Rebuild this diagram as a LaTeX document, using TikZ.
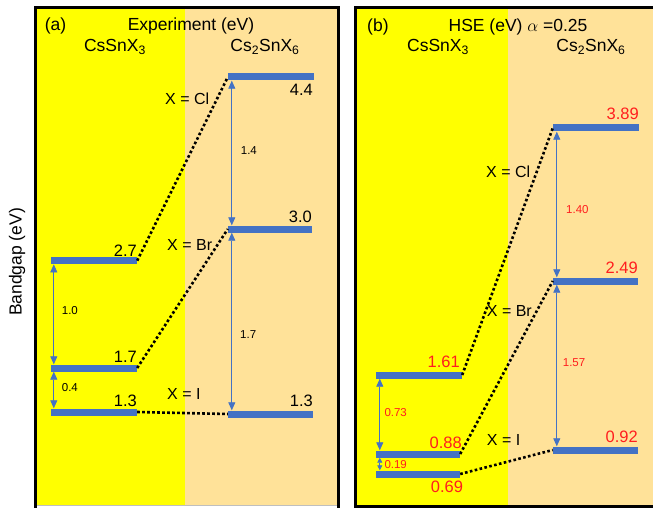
\documentclass[tikz,border=0pt]{standalone}
\usepackage{fontspec}
\setmainfont{Liberation Sans}
\usetikzlibrary{arrows.meta,calc}
\definecolor{ylw}{HTML}{FFFF00}
\definecolor{peach}{HTML}{FFE299}
\definecolor{barblue}{HTML}{4472C4}
\definecolor{numred}{HTML}{FF1E1E}
\begin{document}
\begin{tikzpicture}[x=1pt,y=-1pt,
  bar/.style={rectangle, fill=barblue, draw=none, minimum height=7pt, inner sep=0pt},
  arr/.style={draw=barblue, line width=0.8pt, {Triangle[length=8pt,width=7pt]}-{Triangle[length=8pt,width=7pt]}},
  sarr/.style={draw=barblue, line width=0.8pt, {Triangle[length=5pt,width=5pt]}-{Triangle[length=5pt,width=5pt]}},
  dots/.style={line width=2.6pt, dash pattern=on 2.6pt off 2.4pt, black},
  big/.style={font=\fontsize{17.5}{20}\selectfont, inner sep=0pt},
  num/.style={font=\fontsize{16.5}{19}\selectfont, inner sep=0pt},
  small/.style={font=\fontsize{11.5}{13}\selectfont, inner sep=0pt},
  xlab/.style={font=\fontsize{16}{19}\selectfont, inner sep=0pt},
  rednum/.style={num, text=numred},
  redsmall/.style={small, text=numred},
]
\useasboundingbox (0,0) rectangle (653,508);
\fill[white] (0,0) rectangle (653,508);
% ---------- panel (a) background ----------
\fill[ylw] (35,7.5) rectangle (185,505);
\fill[peach] (185,7.5) rectangle (338.5,505);
\draw[black!25, line width=1pt] (36,505.5) -- (337,505.5);
\draw[line width=3pt] (35,510) -- (35,7.5) -- (338.5,7.5) -- (338.5,510);
% ---------- panel (b) background ----------
\fill[ylw] (355.5,7.5) rectangle (508,506.5);
\fill[peach] (508,7.5) rectangle (660,506.5);
\draw[line width=3pt] (660,7.5) -- (355.5,7.5) -- (355.5,506.5) -- (660,506.5);

\node[rotate=90, big] (ylab) at (17,262) {Bandgap (eV)};

% ---------- panel (a) ----------
\node[big, anchor=base] (la) at (55.5,31) {(a)};
\node[big, anchor=base] (expa) at (191,31) {Experiment (eV)};
\node[big, anchor=base] (c1a) at (115,51.7) {CsSnX\textsubscript{3}};
\node[big, anchor=base] (c2a) at (265,51.7) {Cs\textsubscript{2}SnX\textsubscript{6}};

\node[bar, minimum width=86pt] (a27) at (94,260.7) {};
\node[bar, minimum width=86pt] (a17) at (94,368) {};
\node[bar, minimum width=86pt] (a13) at (94,412) {};
\node[bar, minimum width=86pt] (a44) at (271,77) {};
\node[bar, minimum width=84pt] (a30) at (270,229) {};
\node[bar, minimum width=85pt] (a13b) at (270.5,414) {};

\draw[dots] (a27.east) -- (a44.west);
\draw[dots] (a17.east) -- (a30.west);
\draw[dots] (a13.east) -- (a13b.west);

\draw[arr] ($(a27.south west)+(3,0)$) -- ($(a17.north west)+(3,0)$);
\draw[arr] ($(a17.south west)+(3,0)$) -- ($(a13.north west)+(3,0)$);
\draw[arr] ($(a44.south west)+(4,0)$) -- ($(a30.north west)+(4,0)$);
\draw[arr] ($(a30.south west)+(4,0)$) -- ($(a13b.north west)+(4,0)$);

\node[num, anchor=base east] (n27) at (137,256.5) {2.7};
\node[num, anchor=base east] (n17) at (137,362.3) {1.7};
\node[num, anchor=base east] (n13) at (137,406.7) {1.3};
\node[num, anchor=base east] (n44) at (313,95.7) {4.4};
\node[num, anchor=base east] (n30) at (312,222.7) {3.0};
\node[num, anchor=base east] (n13b) at (313,406.7) {1.3};

\node[small, anchor=west] (d10) at (61.7,311) {1.0};
\node[small, anchor=west] (d04) at (61.7,388) {0.4};
\node[small, anchor=west] (d14) at (240.7,151) {1.4};
\node[small, anchor=west] (d17) at (240,335) {1.7};

\node[xlab, anchor=base west] (xcla) at (165,105) {X = Cl};
\node[xlab, anchor=base west] (xbra) at (167,250) {X = Br};
\node[xlab, anchor=base west] (xia) at (167,399) {X = I};

% ---------- panel (b) ----------
\node[big, anchor=base west] (lb) at (367,31.5) {(b)};
\node[big, anchor=base] (hse) at (518,31.5) {HSE (eV) $\alpha$ =0.25};
\node[big, anchor=base] (c1b) at (438,51.7) {CsSnX\textsubscript{3}};
\node[big, anchor=base] (c2b) at (591,51.7) {Cs\textsubscript{2}SnX\textsubscript{6}};

\node[bar, minimum width=86pt] (b161) at (419,375) {};
\node[bar, minimum width=84pt] (b088) at (418,454) {};
\node[bar, minimum width=84pt] (b069) at (418,474) {};
\node[bar, minimum width=86pt] (b389) at (596,128) {};
\node[bar, minimum width=85pt] (b249) at (595.5,281) {};
\node[bar, minimum width=85pt] (b092) at (595.5,450) {};

\draw[dots] (b161.east) -- (b389.west);
\draw[dots] (b088.east) -- (b249.west);
\draw[dots] (b069.east) -- (b092.west);

\draw[arr] ($(b161.south west)+(4,0)$) -- ($(b088.north west)+(4,0)$);
\draw[sarr] ($(b088.south west)+(4,0)$) -- ($(b069.north west)+(4,0)$);
\draw[arr] ($(b389.south west)+(4,0)$) -- ($(b249.north west)+(4,0)$);
\draw[arr] ($(b249.south west)+(4,0)$) -- ($(b092.north west)+(4,0)$);

\node[rednum, anchor=base east] (m161) at (460,367) {1.61};
\node[rednum, anchor=base east] (m088) at (462,448) {0.88};
\node[rednum, anchor=base] (m069) at (447,492.7) {0.69};
\node[rednum, anchor=base east] (m389) at (639,120) {3.89};
\node[rednum, anchor=base east] (m249) at (638,273) {2.49};
\node[rednum, anchor=base east] (m092) at (638,442.7) {0.92};

\node[redsmall, anchor=west] (e073) at (384.3,413) {0.73};
\node[redsmall, anchor=west] (e019) at (384.3,465) {0.19};
\node[redsmall, anchor=west] (e140) at (566,210) {1.40};
\node[redsmall, anchor=west] (e157) at (562.7,363) {1.57};

\node[xlab, anchor=base west] (xclb) at (486,177) {X = Cl};
\node[xlab, anchor=base west] (xbrb) at (486.7,316) {X = Br};
\node[xlab, anchor=base west] (xib) at (486.7,445.7) {X = I};
\end{tikzpicture}
\end{document}
